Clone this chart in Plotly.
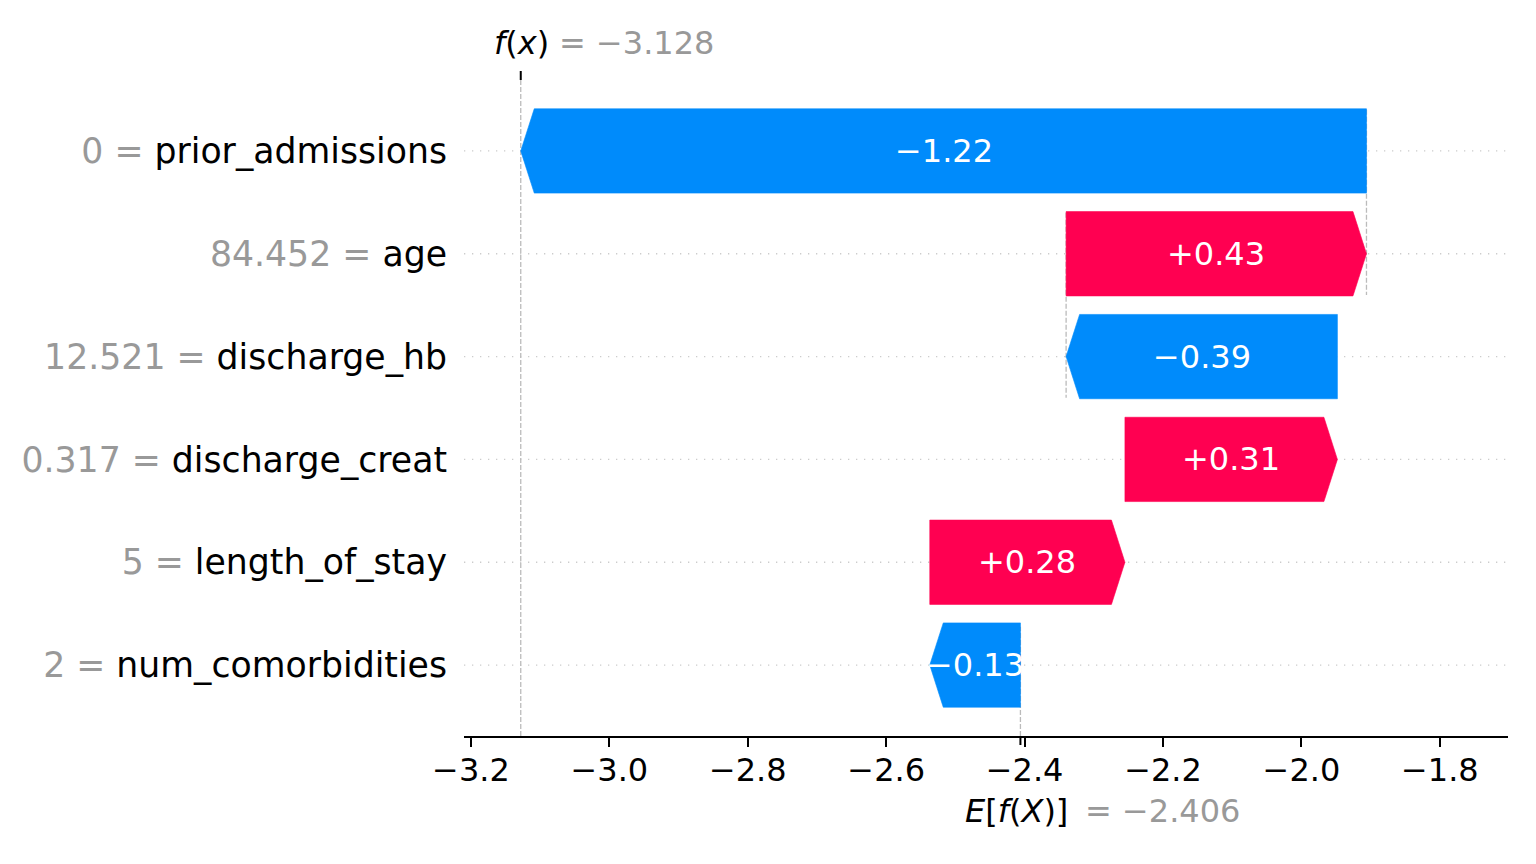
import plotly.graph_objects as go

# ---- data (top to bottom as shown) ----
feature_names = ["prior_admissions", "age", "discharge_hb", "discharge_creat",
                 "length_of_stay", "num_comorbidities"]
feature_values = ["0", "84.452", "12.521", "0.317", "5", "2"]
shap_values = [-1.222, 0.434, -0.392, 0.307, 0.282, -0.131]
base_value = -2.406
fx_value = -3.128
x_ticks = [-3.2, -3.0, -2.8, -2.6, -2.4, -2.2, -2.0, -1.8]

# ---- style ----
RED = "#ff0051"
BLUE = "#008bfb"
GRAY = "#999999"
FONT = "DejaVu Sans"
X_RANGE = [-3.210, -1.7015]
n = len(feature_names)
Y_RANGE = [-0.69, n - 1 + 0.69]
BAR_H = 0.82
HEAD = 0.0195


def mfmt(v, fmt):
    return (fmt % v).replace("-", "\u2212")


rows = [n - 1 - i for i in range(n)]
starts = [0.0] * n
ends = [0.0] * n
cur = base_value
for i in reversed(range(n)):
    starts[i] = cur
    cur = cur + shap_values[i]
    ends[i] = cur

fig = go.Figure()
annotations = []
shapes = []

for i in range(n):
    s, e, y = starts[i], ends[i], rows[i]
    sign = 1 if e >= s else -1
    hb = e - sign * min(HEAD, abs(e - s))
    xs = [s, hb, e, hb, s, s]
    ys = [y - BAR_H / 2, y - BAR_H / 2, y, y + BAR_H / 2, y + BAR_H / 2, y - BAR_H / 2]
    col = RED if sign > 0 else BLUE
    fig.add_trace(go.Scatter(x=xs, y=ys, mode="lines", fill="toself",
                             fillcolor=col, line=dict(width=0.6, color=col),
                             hoverinfo="skip", showlegend=False))
    annotations.append(dict(x=(s + e) / 2, y=y, xref="x", yref="y",
                            text=mfmt(shap_values[i], "%+0.02f"), showarrow=False,
                            font=dict(family=FONT, size=32, color="#ffffff"),
                            xanchor="center", yanchor="middle"))

# gridlines
for r in rows:
    shapes.append(dict(type="line", xref="x", yref="y", x0=X_RANGE[0], x1=X_RANGE[1],
                       y0=r, y1=r, layer="below",
                       line=dict(color="#cccccc", width=1.3, dash="1.3px,6.7px")))
# connecting lines
for i in range(n):
    if i + 4 < n:
        shapes.append(dict(type="line", xref="x", yref="y", x0=starts[i], x1=starts[i],
                           y0=rows[i] + 0.4, y1=rows[i] - 1 - 0.4, layer="below",
                           line=dict(color="#bbbbbb", width=1.3, dash="5px,2px")))
# base and fx lines
shapes.append(dict(type="line", xref="x", yref="y", x0=base_value, x1=base_value,
                   y0=Y_RANGE[0], y1=Y_RANGE[0] + (Y_RANGE[1] - Y_RANGE[0]) / n, layer="below",
                   line=dict(color="#bbbbbb", width=1.3, dash="5px,2px")))
shapes.append(dict(type="line", xref="x", yref="y", x0=fx_value, x1=fx_value,
                   y0=Y_RANGE[0], y1=Y_RANGE[1], layer="below",
                   line=dict(color="#bbbbbb", width=1.3, dash="5px,2px")))
# extra ticks
shapes.append(dict(type="line", xref="x", yref="paper", x0=fx_value, x1=fx_value,
                   ysizemode="pixel", yanchor=1, y0=0, y1=9,
                   line=dict(color="#000000", width=2)))
shapes.append(dict(type="line", xref="x", yref="paper", x0=base_value, x1=base_value,
                   ysizemode="pixel", yanchor=0, y0=0, y1=-9,
                   line=dict(color="#000000", width=2)))

# f(x) and E[f(X)] labels
annotations += [
    dict(x=fx_value, y=1, xref="x", yref="paper", xanchor="left", yanchor="middle",
         xshift=-29, yshift=37, showarrow=False, text="<i>f</i>(<i>x</i>)",
         font=dict(family=FONT, size=32, color="#000000")),
    dict(x=fx_value, y=1, xref="x", yref="paper", xanchor="left", yanchor="middle",
         xshift=36, yshift=37, showarrow=False, text="= " + mfmt(fx_value, "%0.03f"),
         font=dict(family=FONT, size=32, color=GRAY)),
    dict(x=base_value, y=0, xref="x", yref="paper", xanchor="left", yanchor="middle",
         xshift=-57, yshift=-75, showarrow=False, text="<i>E</i>[<i>f</i>(<i>X</i>)]",
         font=dict(family=FONT, size=32, color="#000000")),
    dict(x=base_value, y=0, xref="x", yref="paper", xanchor="left", yanchor="middle",
         xshift=63, yshift=-75, showarrow=False, text="= " + mfmt(base_value, "%0.03f"),
         font=dict(family=FONT, size=32, color=GRAY)),
]

ytext = ["<span style='color:%s'>%s = </span>%s" % (GRAY, v, nme)
         for v, nme in zip(feature_values, feature_names)]

fig.update_layout(
    width=1520, height=848,
    margin=dict(l=456, r=20, t=72, b=120),
    paper_bgcolor="#ffffff", plot_bgcolor="#ffffff",
    font=dict(family=FONT, color="#000000"),
    showlegend=False,
    shapes=shapes, annotations=annotations,
    xaxis=dict(range=X_RANGE, tickvals=x_ticks, ticktext=[mfmt(t, "%0.1f") for t in x_ticks],
               showline=True, linecolor="#000000", linewidth=2,
               ticks="outside", ticklen=9, tickwidth=2, tickcolor="#000000",
               ticklabelstandoff=-4,
               tickfont=dict(family=FONT, size=32, color="#000000"),
               showgrid=False, zeroline=False, fixedrange=True),
    yaxis=dict(range=Y_RANGE, tickvals=rows, ticktext=ytext,
               showline=False, showgrid=False, zeroline=False, ticks="",
               ticklabelstandoff=16,
               tickfont=dict(family=FONT, size=34.7, color="#000000"), fixedrange=True),
)

fig.write_html("out.html", config={"displayModeBar": False})
